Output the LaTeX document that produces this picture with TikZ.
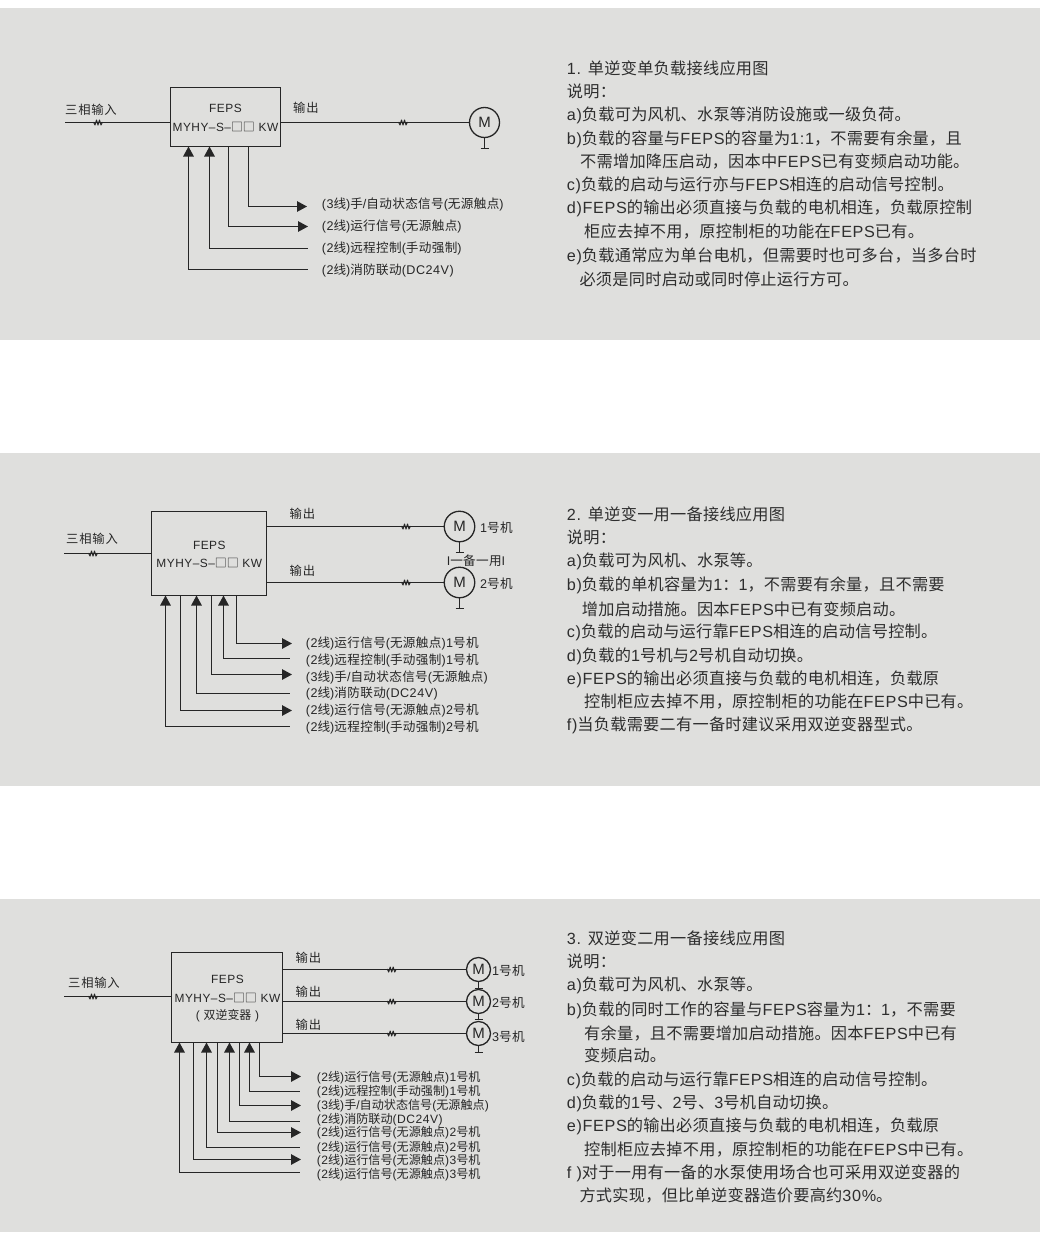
\documentclass[tikz,border=0pt]{standalone}
\usepackage{fontspec}
\usetikzlibrary{arrows.meta}
\setmainfont[LetterSpace=4]{Liberation Sans}
\newfontfamily\cjkf{Noto Sans CJK SC}
\newXeTeXintercharclass\cjkcls
\newdimen\cjktrack
\makeatletter
\def\setcls#1#2#3{\count@=#1\relax\loop\XeTeXcharclass\count@=#3\relax\ifnum\count@<#2\advance\count@ by 1\repeat}
\makeatother
\setcls{"4E00}{"9FFF}{\cjkcls}
\setcls{"3000}{"303F}{\cjkcls}
\setcls{"FF00}{"FFEF}{\cjkcls}
\setcls{"25A0}{"25FF}{\cjkcls}
\setcls{"21}{"7E}{0}
\XeTeXinterchartokenstate=1
\XeTeXinterchartoks 0 \cjkcls={\cjkf}
\XeTeXinterchartoks \cjkcls 0={\rmfamily}
\XeTeXinterchartoks 4095 \cjkcls={\cjkf}
\XeTeXinterchartoks \cjkcls 4095={\rmfamily}
\XeTeXinterchartoks \cjkcls \cjkcls={\kern\cjktrack}
\definecolor{panel}{HTML}{DFDFDD}
\definecolor{ink}{HTML}{262626}
\definecolor{body}{HTML}{2E2E2E}
\newcommand{\fsz}[2]{\fontsize{#1pt}{#1pt}\selectfont\cjktrack=#2pt\relax}
\tikzset{
  wire/.style={draw=ink,line width=1.3pt},
  outarrow/.style={wire,-{Triangle[length=10pt,width=10.5pt]}},
  inarrow/.style={wire,{Triangle[length=10pt,width=10.5pt]}-},
  febox/.style={draw=ink,line width=1.4pt,inner sep=0pt,outer sep=0pt,anchor=north west},
  motor/.style={circle,draw=ink,line width=1.3pt,inner sep=0pt,text=ink,font=\fsz{15}{0}},
  boxtext/.style={inner sep=0pt,text=ink,font=\fsz{11.9}{0}},
  lab/.style={inner sep=0pt,text=ink,anchor=base west,font=\fsz{12.6}{0.35}},
  labs/.style={inner sep=0pt,text=ink,anchor=base west,font=\fsz{12.1}{0}},
  head/.style={inner sep=0pt,text=ink,anchor=base west,font=\fsz{12.3}{0.8}},
  note/.style={inner sep=0pt,text=body,anchor=base west,font=\fsz{16.2}{0.25}},
  squig/.pic={\draw[draw=ink,line width=1pt,line join=round] (-4.5,-0.5)--(-3,2.5)--(-1.5,-2.5)--(0,2.5)--(1.5,-2.5)--(3,2.5)--(4.5,-0.5);},
}
\begin{document}
\begin{tikzpicture}[x=1pt,y=-1pt]
\useasboundingbox (0,0) rectangle (1041,1258);
\fill[white] (0,0) rectangle (1041,1258);
\fill[panel] (0,8) rectangle (1040,340);
\fill[panel] (0,453) rectangle (1040,786);
\fill[panel] (0,899) rectangle (1040,1232);

% ---------- diagram 1 ----------
\node[febox,minimum width=110pt,minimum height=59pt] (box1) at (170.5,87.5) {};
\node[boxtext] (b1a) at (225.5,108) {FEPS};
\node[boxtext] (b1b) at (225.5,126.5) {MYHY–S–□□ KW};
\node[head,anchor=base west] (in1) at (65,114.5) {三相输入};
\node[head] (out1) at (293,112) {输出};
\coordinate (i1) at (65,122.5);
\node[motor,minimum size=30pt] (m1) at (484.5,122.5) {M};
\draw[wire] (i1) -- (box1.west |- i1);
\draw[wire] (box1.east |- m1.west) -- (m1.west);
\pic at (98,122.5) {squig};
\pic at (403,122.5) {squig};
\coordinate (g1) at (484.5,148.5);
\draw[wire] (m1.south) -- (g1);
\draw[wire] ([xshift=-4pt]g1) -- ([xshift=4pt]g1);
\node[lab] (l1a) at (321.6,208.5) {(3线)手/自动状态信号(无源触点)};
\node[lab] (l1b) at (321.6,230) {(2线)运行信号(无源触点)};
\node[lab] (l1c) at (321.6,252) {(2线)远程控制(手动强制)};
\node[lab] (l1d) at (321.6,274) {(2线)消防联动(DC24V)};
\coordinate (e1a) at (307,206.5);
\coordinate (e1b) at (308,226.5);
\coordinate (e1c) at (308,248.5);
\coordinate (e1d) at (308,269.5);
\draw[outarrow] (248.5,0 |- box1.south) |- (e1a);
\draw[outarrow] (228.5,0 |- box1.south) |- (e1b);
\draw[inarrow] (209.5,0 |- box1.south) |- (e1c);
\draw[inarrow] (188.5,0 |- box1.south) |- (e1d);

% ---------- diagram 2 ----------
\node[febox,minimum width=115pt,minimum height=84pt] (box2) at (151.5,511.5) {};
\node[boxtext] (b2a) at (209.3,545) {FEPS};
\node[boxtext] (b2b) at (209.3,563) {MYHY–S–□□ KW};
\node[head] (in2) at (66,543.5) {三相输入};
\node[head] (out2a) at (289.5,518) {输出};
\node[head] (out2b) at (289.5,575.5) {输出};
\coordinate (i2) at (64,553.5);
\node[motor,minimum size=30.5pt] (m2a) at (459.5,526.5) {M};
\node[motor,minimum size=30.5pt] (m2b) at (459.5,582.5) {M};
\draw[wire] (i2) -- (box2.west |- i2);
\draw[wire] (box2.east |- m2a.west) -- (m2a.west);
\draw[wire] (box2.east |- m2b.west) -- (m2b.west);
\pic at (93,553.5) {squig};
\pic at (406,526.5) {squig};
\pic at (406,582.5) {squig};
\coordinate (g2a) at (459.5,552.5);
\coordinate (g2b) at (459.5,608.5);
\draw[wire] (m2a.south) -- (g2a);
\draw[wire] ([xshift=-4pt]g2a) -- ([xshift=4pt]g2a);
\draw[wire] (m2b.south) -- (g2b);
\draw[wire] ([xshift=-4pt]g2b) -- ([xshift=4pt]g2b);
\node[lab] (m2al) at (480,532.5) {1号机};
\node[lab] (m2bl) at (480,588.5) {2号机};
\node[lab,anchor=base] (bak) at (476,565.5) {I一备一用I};
\node[lab] (l2a) at (305.7,647.5) {(2线)运行信号(无源触点)1号机};
\node[lab] (l2b) at (305.7,664) {(2线)远程控制(手动强制)1号机};
\node[lab] (l2c) at (305.7,681) {(3线)手/自动状态信号(无源触点)};
\node[lab] (l2d) at (305.7,697.5) {(2线)消防联动(DC24V)};
\node[lab] (l2e) at (305.7,714) {(2线)运行信号(无源触点)2号机};
\node[lab] (l2f) at (305.7,731) {(2线)远程控制(手动强制)2号机};
\coordinate (e2a) at (292,643.5);
\coordinate (e2b) at (290,658.5);
\coordinate (e2c) at (292,674.5);
\coordinate (e2d) at (290,693.5);
\coordinate (e2e) at (292,710.5);
\coordinate (e2f) at (290,726.5);
\draw[outarrow] (236.5,0 |- box2.south) |- (e2a);
\draw[inarrow] (223.5,0 |- box2.south) |- (e2b);
\draw[outarrow] (211.5,0 |- box2.south) |- (e2c);
\draw[inarrow] (196.5,0 |- box2.south) |- (e2d);
\draw[outarrow] (180.5,0 |- box2.south) |- (e2e);
\draw[inarrow] (165.5,0 |- box2.south) |- (e2f);

% ---------- diagram 3 ----------
\node[febox,minimum width=111pt,minimum height=90pt] (box3) at (171.5,952.5) {};
\node[boxtext] (b3a) at (227.5,979.5) {FEPS};
\node[boxtext] (b3b) at (227.5,997.5) {MYHY–S–□□ KW};
\node[boxtext] (b3c) at (227.5,1015.5) {( 双逆变器 )};
\node[head] (in3) at (68,987) {三相输入};
\node[head] (out3a) at (295.5,962.5) {输出};
\node[head] (out3b) at (295.5,996.5) {输出};
\node[head] (out3c) at (295.5,1029.5) {输出};
\coordinate (i3) at (64,996.5);
\node[motor,minimum size=24pt] (m3a) at (478.5,969.5) {M};
\node[motor,minimum size=24pt] (m3b) at (478.5,1001.5) {M};
\node[motor,minimum size=24pt] (m3c) at (478.5,1033.5) {M};
\draw[wire] (i3) -- (box3.west |- i3);
\draw[wire] (box3.east |- m3a.west) -- (m3a.west);
\draw[wire] (box3.east |- m3b.west) -- (m3b.west);
\draw[wire] (box3.east |- m3c.west) -- (m3c.west);
\pic at (93,996.5) {squig};
\pic at (391.7,969.5) {squig};
\pic at (391.7,1001.5) {squig};
\pic at (391.7,1033.5) {squig};
\coordinate (g3a) at (478.5,988.5);
\coordinate (g3b) at (478.5,1019.5);
\coordinate (g3c) at (478.5,1052.5);
\draw[wire] (m3a.south) -- (g3a);
\draw[wire] ([xshift=-4pt]g3a) -- ([xshift=4pt]g3a);
\draw[wire] (m3b.south) -- (g3b);
\draw[wire] ([xshift=-4pt]g3b) -- ([xshift=4pt]g3b);
\draw[wire] (m3c.south) -- (g3c);
\draw[wire] ([xshift=-4pt]g3c) -- ([xshift=4pt]g3c);
\node[lab] (m3al) at (492,975.5) {1号机};
\node[lab] (m3bl) at (492,1007.5) {2号机};
\node[lab] (m3cl) at (492,1041) {3号机};
\node[labs] (l3a) at (316.7,1081) {(2线)运行信号(无源触点)1号机};
\node[labs] (l3b) at (316.7,1095) {(2线)远程控制(手动强制)1号机};
\node[labs] (l3c) at (316.7,1109) {(3线)手/自动状态信号(无源触点)};
\node[labs] (l3d) at (316.7,1123) {(2线)消防联动(DC24V)};
\node[labs] (l3e) at (316.7,1136.5) {(2线)运行信号(无源触点)2号机};
\node[labs] (l3f) at (316.7,1151) {(2线)运行信号(无源触点)2号机};
\node[labs] (l3g) at (316.7,1164.5) {(2线)运行信号(无源触点)3号机};
\node[labs] (l3h) at (316.7,1178.5) {(2线)运行信号(无源触点)3号机};
\coordinate (e3a) at (301,1076.5);
\coordinate (e3b) at (300,1091.5);
\coordinate (e3c) at (301,1105.5);
\coordinate (e3d) at (300,1121.5);
\coordinate (e3e) at (301,1132.5);
\coordinate (e3f) at (300,1147.5);
\coordinate (e3g) at (301,1159.5);
\coordinate (e3h) at (300,1172.5);
\draw[outarrow] (259.5,0 |- box3.south) |- (e3a);
\draw[inarrow] (249.5,0 |- box3.south) |- (e3b);
\draw[outarrow] (239.5,0 |- box3.south) |- (e3c);
\draw[inarrow] (229.5,0 |- box3.south) |- (e3d);
\draw[outarrow] (217.5,0 |- box3.south) |- (e3e);
\draw[inarrow] (206.5,0 |- box3.south) |- (e3f);
\draw[outarrow] (193.5,0 |- box3.south) |- (e3g);
\draw[inarrow] (179.5,0 |- box3.south) |- (e3h);

% ---------- notes 1 ----------
\node[note] (n1a) at (566.7,74) {1. 单逆变单负载接线应用图};
\node[note] (n1b) at (566.7,97.5) {说明：};
\node[note] (n1c) at (566.7,120.8) {a)负载可为风机、水泵等消防设施或一级负荷。};
\node[note] (n1d) at (566.7,144.1) {b)负载的容量与FEPS的容量为1:1，不需要有余量，且};
\node[note] (n1e) at (580,167.5) {不需增加降压启动，因本中FEPS已有变频启动功能。};
\node[note] (n1f) at (566.7,190.8) {c)负载的启动与运行亦与FEPS相连的启动信号控制。};
\node[note] (n1g) at (566.7,213.1) {d)FEPS的输出必须直接与负载的电机相连，负载原控制};
\node[note] (n1h) at (584,237.5) {柜应去掉不用，原控制柜的功能在FEPS已有。};
\node[note] (n1i) at (566.7,261.8) {e)负载通常应为单台电机，但需要时也可多台，当多台时};
\node[note] (n1j) at (579.3,285.8) {必须是同时启动或同时停止运行方可。};

% ---------- notes 2 ----------
\node[note] (n2a) at (566.7,520.1) {2. 单逆变一用一备接线应用图};
\node[note] (n2b) at (566.7,543.5) {说明：};
\node[note] (n2c) at (566.7,566.5) {a)负载可为风机、水泵等。};
\node[note] (n2d) at (566.7,590.1) {b)负载的单机容量为1：1，不需要有余量，且不需要};
\node[note] (n2e) at (581.7,615.1) {增加启动措施。因本FEPS中已有变频启动。};
\node[note] (n2f) at (566.7,637.5) {c)负载的启动与运行靠FEPS相连的启动信号控制。};
\node[note] (n2g) at (566.7,661.5) {d)负载的1号机与2号机自动切换。};
\node[note] (n2h) at (566.7,684.1) {e)FEPS的输出必须直接与负载的电机相连，负载原};
\node[note] (n2i) at (584,707.5) {控制柜应去掉不用，原控制柜的功能在FEPS中已有。};
\node[note] (n2j) at (566.7,730.1) {f)当负载需要二有一备时建议采用双逆变器型式。};

% ---------- notes 3 ----------
\node[note] (n3a) at (566.7,944.1) {3. 双逆变二用一备接线应用图};
\node[note] (n3b) at (566.7,967.5) {说明：};
\node[note] (n3c) at (566.7,990.1) {a)负载可为风机、水泵等。};
\node[note] (n3d) at (566.7,1015.1) {b)负载的同时工作的容量与FEPS容量为1：1，不需要};
\node[note] (n3e) at (584,1039.1) {有余量，且不需要增加启动措施。因本FEPS中已有};
\node[note] (n3f) at (584,1061.5) {变频启动。};
\node[note] (n3g) at (566.7,1085.1) {c)负载的启动与运行靠FEPS相连的启动信号控制。};
\node[note] (n3h) at (566.7,1108.1) {d)负载的1号、2号、3号机自动切换。};
\node[note] (n3i) at (566.7,1131.5) {e)FEPS的输出必须直接与负载的电机相连，负载原};
\node[note] (n3j) at (584,1155.1) {控制柜应去掉不用，原控制柜的功能在FEPS中已有。};
\node[note] (n3k) at (566.7,1178.5) {f )对于一用有一备的水泵使用场合也可采用双逆变器的};
\node[note] (n3l) at (579.3,1201.5) {方式实现，但比单逆变器造价要高约30\%。};
\end{tikzpicture}
\end{document}
